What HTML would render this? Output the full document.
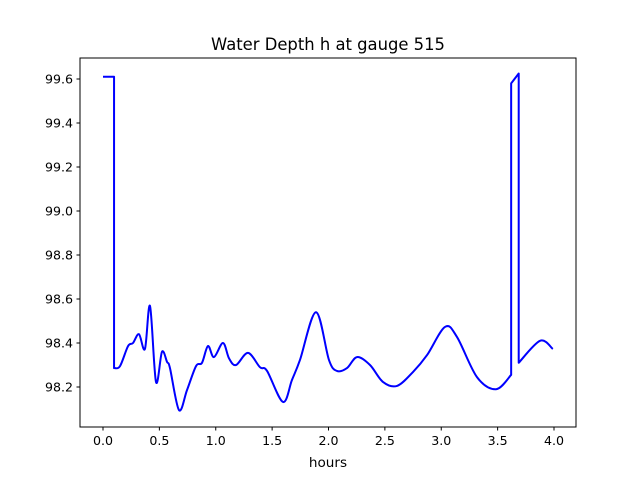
<!DOCTYPE html>
<html><head><meta charset="utf-8"><style>
body{margin:0;background:#fff}
svg text{font-family:"DejaVu Sans","Liberation Sans",sans-serif;fill:#000}
</style></head><body>
<svg id="chart" width="640" height="480" xmlns="http://www.w3.org/2000/svg">
<rect width="640" height="480" fill="#fff"/>
<text x="328" y="50" font-size="16.4" text-anchor="middle">Water Depth h at gauge 515</text>
<g id="xt"></g>
<g id="yt"></g>
<text x="328" y="467" font-size="13.6" text-anchor="middle">hours</text>
<path id="line" fill="none" stroke="#0000ff" stroke-width="2" stroke-linejoin="round"/>
<rect x="80" y="58" width="496" height="369" fill="none" stroke="#000" stroke-width="1"/>
</svg>
<script>
const times=[0,0.098,0.098,0.151,0.222,0.266,0.319,0.372,0.417,0.470,0.523,0.568,0.594,0.674,0.745,0.825,0.878,0.931,0.984,1.064,1.118,1.18,1.286,1.392,1.455,1.596,1.676,1.747,1.889,2.004,2.075,2.164,2.253,2.368,2.483,2.608,2.749,2.874,3.033,3.14,3.317,3.486,3.62,3.62,3.687,3.687,3.876,3.99];
const depths=[99.61,99.61,98.286,98.295,98.386,98.40,98.44,98.373,98.568,98.223,98.36,98.314,98.286,98.095,98.186,98.295,98.31,98.386,98.336,98.40,98.33,98.30,98.355,98.29,98.273,98.132,98.232,98.323,98.54,98.323,98.273,98.286,98.336,98.30,98.223,98.205,98.268,98.345,98.473,98.427,98.245,98.19,98.255,99.58,99.625,98.31,98.41,98.373];
const xTicks=[0,0.5,1,1.5,2,2.5,3,3.5,4];
const yTicks=[98.2,98.4,98.6,98.8,99.0,99.2,99.4,99.6];
const NS="http://www.w3.org/2000/svg";
const X=t=>103+t*112.75;
const Y=v=>387-(v-98.2)*220;
const xg=document.getElementById('xt'),yg=document.getElementById('yt');
xTicks.forEach(t=>{
 const l=document.createElementNS(NS,'line');
 
 
 l.setAttribute('x1',X(t));l.setAttribute('x2',X(t));l.setAttribute('y1',427);l.setAttribute('y2',430.5);l.setAttribute('stroke','#000');
 xg.appendChild(l);
 const s=document.createElementNS(NS,'text');
 
 
 s.setAttribute('x',X(t));s.setAttribute('y',445);s.setAttribute('font-size','12.6');s.setAttribute('text-anchor','middle');
 s.textContent=t.toFixed(1);xg.appendChild(s);
});
yTicks.forEach(v=>{
 const l=document.createElementNS(NS,'line');
 
 
 l.setAttribute('x1',76.5);l.setAttribute('x2',80);l.setAttribute('y1',Y(v));l.setAttribute('y2',Y(v));l.setAttribute('stroke','#000');
 yg.appendChild(l);
 const s=document.createElementNS(NS,'text');
 
 
 s.setAttribute('x',73);s.setAttribute('y',Y(v)+4.5);s.setAttribute('font-size','12.6');s.setAttribute('text-anchor','end');
 s.textContent=v.toFixed(1);yg.appendChild(s);
});
const P=times.map((t,i)=>[X(t),Y(depths[i])]);
let d='M'+P[0][0]+','+P[0][1];
const isJump=i=>(times[i+1]-times[i])<0.02||i===0||(i>=42&&i<=44);
for(let i=0;i<P.length-1;i++){
 if(isJump(i)){d+=' L'+P[i+1][0]+','+P[i+1][1];continue;}
 const p0=(i>0&&!isJump(i-1))?P[i-1]:P[i];
 const p3=(i+2<P.length&&!isJump(i+1))?P[i+2]:P[i+1];
 const p1=P[i],p2=P[i+1];
 const c1=[p1[0]+(p2[0]-p0[0])/6,p1[1]+(p2[1]-p0[1])/6];
 const c2=[p2[0]-(p3[0]-p1[0])/6,p2[1]-(p3[1]-p1[1])/6];
 d+=' C'+c1+' '+c2+' '+p2;
}
document.getElementById('line').setAttribute('d',d);
</script>
</body></html>
